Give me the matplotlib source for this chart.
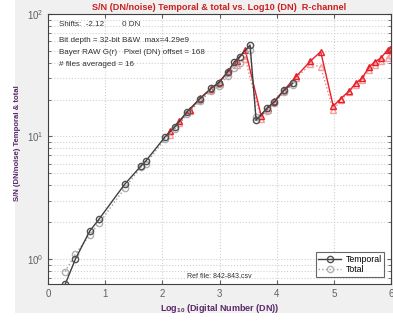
import matplotlib.pyplot as plt
from matplotlib.patches import Rectangle
from matplotlib.ticker import LogLocator, NullFormatter

plt.rcParams["font.family"] = ["Liberation Sans", "DejaVu Sans"]
plt.rcParams["mathtext.fontset"] = "custom"
plt.rcParams["mathtext.bf"] = "Liberation Sans:bold"
plt.rcParams["mathtext.rm"] = "Liberation Sans"

# Temporal / total S/N (gray, circles)
gray_x = [0.30, 0.48, 0.73, 0.895, 1.34, 1.62, 1.71, 2.05, 2.22, 2.43, 2.66,
          2.855, 2.99, 3.145, 3.26, 3.35, 3.535, 3.64, 3.83, 3.96, 4.13, 4.28]
temporal = [0.62, 1.0, 1.69, 2.12, 4.07, 5.7, 6.3, 9.96, 12.0, 15.9, 20.4,
            24.8, 27.5, 33.8, 40.8, 44.8, 55.8, 13.6, 17.0, 19.2, 23.9, 27.2]
total = [0.79, 1.1, 1.57, 1.96, 3.77, 5.6, 6.0, 9.6, 11.5, 15.2, 19.5,
         23.5, 26.0, 31.0, 36.0, 40.0, 51.0, 14.5, 16.3, 18.7, 23.2, 26.5]

# R-channel series (red, triangles)
red_x = [2.13, 2.3, 2.48, 2.66, 2.85, 3.0, 3.15, 3.3, 3.45, 3.73, 3.84, 3.96,
         4.13, 4.34, 4.59, 4.77, 4.99, 5.12, 5.27, 5.38, 5.49, 5.62, 5.72,
         5.82, 5.94, 5.99]
red_temporal = [11.0, 13.3, 16.5, 20.5, 24.5, 28.0, 34.0, 41.0, 50.8, 14.7,
                17.0, 19.5, 24.0, 30.9, 41.2, 49.3, 17.7, 20.4, 23.5, 27.2,
                29.8, 37.1, 40.8, 43.6, 50.8, 52.0]
red_total = [10.3, 12.8, 16.0, 19.8, 24.0, 27.0, 33.0, 38.0, 43.0, 13.8,
             16.5, 19.0, 23.5, 30.0, 39.0, 37.0, 16.4, 19.8, 23.0, 26.5,
             29.0, 35.0, 38.5, 41.0, 44.0, 46.0]

info_lines = ["Shifts:  -2.12        0 DN",
              "Bit depth = 32-bit B&W  max=4.29e9",
              "Bayer RAW G(r)   Pixel (DN) offset = 168",
              "# files averaged = 16"]

fig = plt.figure(figsize=(3.93, 3.21), dpi=100, facecolor="white")
# gray MATLAB-style panel
fig.patches.append(Rectangle((15 / 393, 8 / 321), 1, 1, transform=fig.transFigure,
                             facecolor="#f0f0f0", edgecolor="none", zorder=-10))
ax = fig.add_axes([48 / 393, 1 - 284 / 321, 343 / 393, 270 / 321])
ax.set_facecolor("white")

ax.plot(red_x, red_total, ":", color="#f08080", marker="^", mfc="none",
        mec="#f4a0a0", ms=5, lw=1)
ax.plot(red_x, red_temporal, "-", color="#e8202a", marker="^", mfc="none",
        mec="#e8202a", ms=5, lw=1)
ax.plot(gray_x, total, ":", color="#a0a0a0", marker="o", mfc="none",
        mec="#b0b0b0", ms=4.5, lw=1, label="Total")
ax.plot(gray_x, temporal, "-", color="#404040", marker="o", mfc="none",
        mec="#505050", ms=4.5, lw=1, label="Temporal")

ax.set_yscale("log")
ax.set_xlim(0, 6)
ax.set_ylim(0.625, 100)
ax.yaxis.set_major_locator(LogLocator(base=10))
ax.yaxis.set_minor_locator(LogLocator(base=10, subs=range(2, 10)))
ax.yaxis.set_minor_formatter(NullFormatter())
ax.grid(True, which="both", color="#d0d0d0", linestyle=":", linewidth=0.8)
ax.tick_params(which="both", direction="in", labelsize=7, colors="#606060",
               top=True, right=True, length=3)
ax.tick_params(which="minor", length=2)
for s in ax.spines.values():
    s.set_color("#404040")
    s.set_linewidth(0.8)

ax.set_title("S/N (DN/noise) Temporal & total vs. Log10 (DN)  R-channel",
             color="#cc2020", fontsize=6.6, fontweight="bold", pad=3)
ax.set_ylabel("S/N (DN/noise) Temporal & total", color="#5a2a6a",
              fontsize=5.6, fontweight="bold", labelpad=2)
ax.yaxis.set_label_coords(-0.08, 0.52)
ax.set_xlabel("Log$_{\\mathbf{10}}$ (Digital Number (DN))", color="#5a2a6a",
              fontsize=6.5, fontweight="bold", labelpad=2)

y_pos = [24, 40, 52, 64]
for line, yp in zip(info_lines, y_pos):
    fig.text(59 / 393, 1 - yp / 321, line, fontsize=5.8, color="#303030",
             va="center", ha="left")
fig.text(187 / 393, 1 - 276 / 321, "Ref file: 842-843.csv", fontsize=5,
         color="#303030", va="center")

handles, labels = ax.get_legend_handles_labels()
leg = ax.legend(handles[::-1], labels[::-1], loc="lower right", fontsize=6.3,
                bbox_to_anchor=(0.98, 0.026), borderaxespad=0, frameon=True,
                fancybox=False, edgecolor="#404040", borderpad=0.3,
                handlelength=2.6, labelspacing=0.15, handletextpad=0.5)
leg.get_frame().set_linewidth(0.8)

fig.savefig("out.png", dpi=100, facecolor=fig.get_facecolor())
